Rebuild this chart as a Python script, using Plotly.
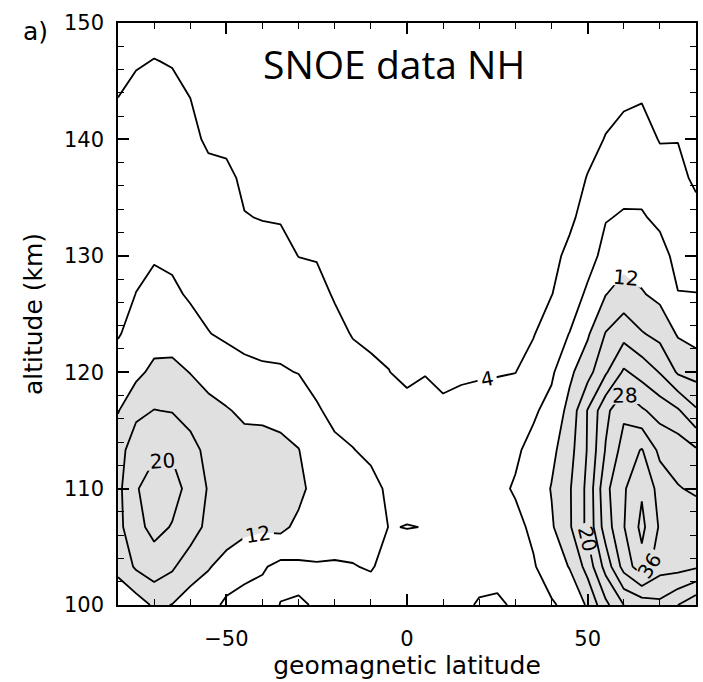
import plotly.graph_objects as go

# geomagnetic latitude (deg) and altitude (km) grid
latitude = [-80, -75, -70, -65, -60, -55, -50, -45, -40, -35, -30, -25, -20, -15, -10, -5,
            0, 5, 10, 15, 20, 25, 30, 35, 40, 45, 50, 55, 60, 65, 70, 75, 80]
altitude = [100.0, 103.3, 106.7, 110.0, 113.3, 116.7, 120.0, 123.3,
            126.7, 130.0, 133.3, 136.7, 140.0, 143.3, 146.7, 150.0]

# NO density profiles (10^7 cm^-3), one per latitude, bottom (100 km) to top (150 km)
no_m80 = [9.4, 13.0, 14.8, 15.0, 14.3, 11.8, 9.9, 7.7, 6.8, 6.0, 5.4, 5.0, 4.6, 4.05, 3.5, 3.0]
no_m75 = [10.0, 16.6, 19.0, 19.6, 18.4, 15.0, 11.0, 9.4, 8.05, 7.2, 6.3, 5.6, 5.0, 4.5, 3.85, 3.2]
no_m70 = [12.6, 18.3, 21.0, 22.3, 19.2, 16.1, 13.0, 10.2, 9.0, 7.7, 6.8, 6.0, 5.3, 4.7, 4.05, 3.4]
no_m65 = [11.9, 16.6, 19.8, 21.2, 19.6, 15.8, 13.0, 10.4, 8.6, 7.4, 6.6, 5.8, 5.1, 4.5, 3.9, 3.3]
no_m60 = [10.5, 13.6, 18.2, 19.0, 17.5, 14.4, 11.9, 9.3, 7.6, 6.7, 6.0, 5.4, 4.8, 4.05, 3.4, 2.9]
no_m55 = [9.5, 12.3, 14.8, 15.7, 14.8, 13.0, 10.8, 8.1, 7.1, 6.3, 5.6, 4.9, 3.5, 3.0, 2.6, 2.2]
no_m50 = [7.2, 10.6, 14.0, 14.7, 14.2, 12.3, 9.6, 7.5, 6.6, 5.9, 5.3, 4.6, 3.4, 3.0, 2.6, 2.2]
no_m45 = [6.6, 9.2, 13.0, 14.0, 13.4, 11.3, 8.7, 7.2, 6.2, 5.3, 4.1, 3.5, 3.0, 2.6, 2.3, 2.0]
no_m40 = [6.5, 8.4, 12.6, 13.6, 13.0, 11.4, 8.4, 7.0, 6.0, 5.0, 3.9, 3.3, 2.9, 2.5, 2.2, 1.9]
no_m35 = [8.1, 7.0, 13.0, 13.6, 12.8, 11.0, 8.3, 6.9, 5.8, 4.9, 3.8, 3.2, 2.8, 2.4, 2.1, 1.8]
no_m30 = [8.2, 7.4, 11.0, 13.2, 12.1, 10.0, 7.9, 6.6, 5.5, 3.95, 3.4, 3.0, 2.6, 2.3, 2.0, 1.7]
no_m25 = [7.85, 7.8, 9.5, 10.3, 9.8, 8.3, 7.1, 6.1, 5.0, 3.8, 3.2, 2.8, 2.5, 2.2, 1.9, 1.7]
no_m20 = [7.0, 7.8, 9.0, 9.4, 8.6, 7.3, 6.2, 5.0, 3.7, 3.2, 2.8, 2.5, 2.3, 2.0, 1.8, 1.6]
no_m15 = [6.8, 7.9, 9.0, 9.2, 8.1, 6.8, 5.3, 3.8, 3.3, 2.9, 2.6, 2.4, 2.2, 2.0, 1.8, 1.6]
no_m10 = [6.7, 8.2, 9.6, 8.9, 7.4, 6.0, 4.5, 3.5, 3.1, 2.8, 2.5, 2.3, 2.1, 1.9, 1.7, 1.5]
no_m05 = [6.3, 7.2, 7.92, 7.5, 6.6, 5.4, 4.05, 3.4, 3.0, 2.7, 2.5, 2.3, 2.1, 1.9, 1.7, 1.5]
no_p00 = [6.2, 7.0, 8.05, 7.3, 6.3, 5.0, 3.3, 3.0, 2.7, 2.5, 2.3, 2.1, 2.0, 1.8, 1.6, 1.5]
no_p05 = [6.4, 7.1, 7.97, 7.4, 6.5, 5.3, 3.85, 3.3, 3.0, 2.7, 2.5, 2.3, 2.1, 1.9, 1.7, 1.5]
no_p10 = [6.8, 7.3, 7.6, 7.2, 6.2, 4.8, 3.0, 2.8, 2.6, 2.4, 2.2, 2.1, 1.9, 1.8, 1.6, 1.5]
no_p15 = [7.3, 7.2, 7.3, 7.0, 6.0, 5.0, 3.5, 3.0, 2.7, 2.5, 2.3, 2.2, 2.0, 1.8, 1.7, 1.5]
no_p20 = [8.3, 6.8, 7.0, 6.9, 6.1, 5.1, 3.7, 3.1, 2.8, 2.6, 2.4, 2.2, 2.0, 1.9, 1.7, 1.5]
no_p25 = [8.4, 7.1, 7.4, 7.3, 6.5, 5.4, 3.8, 3.2, 2.9, 2.7, 2.5, 2.3, 2.1, 1.9, 1.7, 1.5]
no_p30 = [7.66, 7.3, 7.2, 8.3, 7.5, 6.0, 3.95, 3.3, 3.0, 2.7, 2.5, 2.3, 2.1, 1.9, 1.7, 1.5]
no_p35 = [7.3, 7.7, 8.6, 9.5, 9.0, 7.5, 5.5, 3.8, 3.3, 3.0, 2.7, 2.5, 2.3, 2.1, 1.9, 1.7]
no_p40 = [7.6, 9.8, 11.5, 12.2, 11.0, 9.2, 7.4, 6.0, 3.9, 3.3, 2.8, 2.5, 2.3, 2.1, 1.9, 1.7]
no_p45 = [9.0, 12.2, 15.5, 15.6, 14.5, 13.2, 11.2, 8.1, 5.8, 4.6, 3.5, 3.0, 2.6, 2.3, 2.0, 1.8]
no_p50 = [12.5, 17.5, 21.0, 21.0, 20.3, 20.2, 14.5, 11.5, 8.7, 6.5, 5.0, 4.1, 3.3, 2.8, 2.4, 2.0]
no_p55 = [19.0, 25.5, 30.0, 31.0, 28.3, 27.0, 19.5, 16.2, 11.9, 9.2, 7.8, 5.8, 4.1, 3.4, 2.8, 2.3]
no_p60 = [24.0, 33.5, 35.8, 35.5, 33.6, 31.2, 24.6, 18.6, 13.6, 10.6, 8.3, 6.9, 5.6, 3.4, 2.8, 2.3]
no_p65 = [25.5, 38.6, 41.0, 39.5, 36.3, 28.5, 22.5, 16.3, 12.3, 10.2, 8.3, 6.8, 5.5, 3.9, 3.2, 2.6]
no_p70 = [27.0, 33.5, 35.5, 34.5, 31.0, 26.5, 19.8, 14.8, 11.0, 9.2, 7.3, 5.6, 3.8, 3.2, 2.7, 2.3]
no_p75 = [24.0, 33.5, 34.5, 32.2, 30.5, 24.5, 15.5, 11.6, 8.1, 7.0, 6.0, 5.0, 3.9, 3.2, 2.7, 2.3]
no_p80 = [21.0, 32.5, 34.0, 31.5, 28.5, 20.5, 14.5, 10.5, 8.05, 7.0, 5.2, 3.3, 2.9, 2.5, 2.2, 1.9]

profiles = [no_m80, no_m75, no_m70, no_m65, no_m60, no_m55, no_m50, no_m45, no_m40,
            no_m35, no_m30, no_m25, no_m20, no_m15, no_m10, no_m05, no_p00, no_p05,
            no_p10, no_p15, no_p20, no_p25, no_p30, no_p35, no_p40, no_p45, no_p50,
            no_p55, no_p60, no_p65, no_p70, no_p75, no_p80]

shade_level = 12
labelled_levels = dict(start=4, end=36, size=8)
plain_levels = dict(start=8, end=40, size=8)

x_ticks = [-50, 0, 50]
y_ticks = [100, 110, 120, 130, 140, 150]

tick_font = dict(family="DejaVu Sans", size=21, color="black")
title_font = dict(family="DejaVu Sans", size=25, color="black")
line_w = 1.8

fig = go.Figure()

# gray shading where density exceeds 12
fig.add_trace(go.Contour(
    x=latitude, y=altitude, z=profiles, transpose=True,
    contours=dict(type="constraint", operation="<", value=shade_level),
    fillcolor="#e0e0e0", line=dict(width=0, color="rgba(0,0,0,0)", smoothing=0),
    showscale=False, hoverinfo="skip", showlegend=False,
))

# labelled contour levels (4, 12, 20, 28, 36)
fig.add_trace(go.Contour(
    x=latitude, y=altitude, z=profiles, transpose=True,
    autocontour=False,
    contours=dict(coloring="none", showlabels=True,
                  labelfont=dict(family="DejaVu Sans", size=20, color="black"),
                  **labelled_levels),
    line=dict(color="black", width=line_w, smoothing=0),
    showscale=False, hoverinfo="skip", showlegend=False,
))

# unlabelled contour levels (8, 16, 24, 32, 40)
fig.add_trace(go.Contour(
    x=latitude, y=altitude, z=profiles, transpose=True,
    autocontour=False,
    contours=dict(coloring="none", showlabels=False, **plain_levels),
    line=dict(color="black", width=line_w, smoothing=0),
    showscale=False, hoverinfo="skip", showlegend=False,
))

tick_style = dict(ticks="inside", ticklen=11, tickwidth=1.5, tickcolor="black",
                  showgrid=False, zeroline=False, showline=True,
                  linecolor="black", linewidth=1.6, mirror="ticks")
x_minor = dict(dtick=10, tick0=0, ticks="inside", ticklen=6,
               tickwidth=1.3, tickcolor="black", showgrid=False)
y_minor = dict(dtick=2, tick0=100, ticks="inside", ticklen=6,
               tickwidth=1.3, tickcolor="black", showgrid=False)

fig.update_layout(
    width=703, height=682,
    margin=dict(l=118, r=5, t=23, b=77),
    paper_bgcolor="white", plot_bgcolor="white",
    xaxis=dict(range=[-80, 80], tickvals=x_ticks, minor=x_minor,
               tickfont=tick_font, ticklabelstandoff=14,
               title=dict(text="geomagnetic latitude", font=title_font, standoff=6),
               **tick_style),
    yaxis=dict(range=[100, 150], tickvals=y_ticks, minor=y_minor,
               tickfont=tick_font, ticklabelstandoff=8,
               title=dict(text="altitude (km)", font=title_font, standoff=14),
               **tick_style),
    annotations=[
        dict(text="SNOE data NH", xref="paper", yref="paper", x=0.478, y=0.93,
             xanchor="center", yanchor="middle", showarrow=False,
             font=dict(family="Open Sans", size=39, color="black")),
        dict(text="a)", xref="paper", yref="paper", x=-0.168, y=0.985,
             xanchor="left", yanchor="middle", showarrow=False,
             font=dict(family="DejaVu Sans", size=25, color="black")),
    ],
)

fig.write_html("out.html")
